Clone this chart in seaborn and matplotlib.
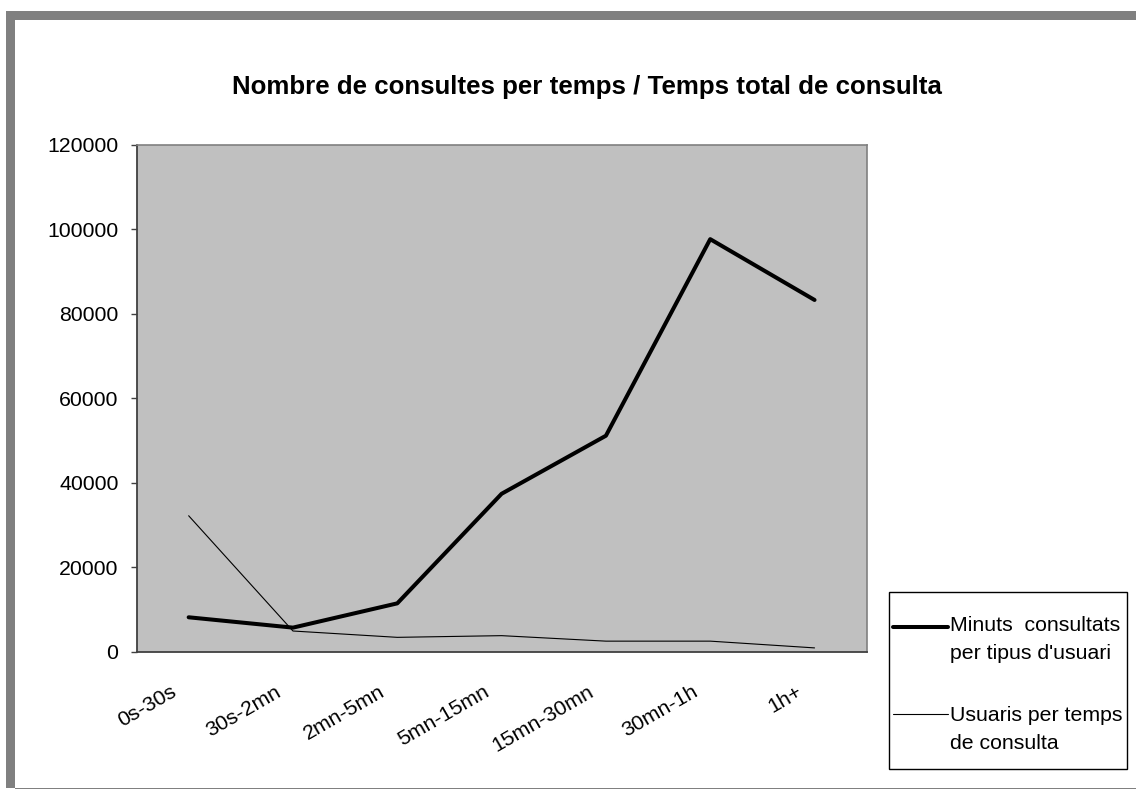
import matplotlib
matplotlib.use("Agg")
import numpy as np
import pandas as pd
import seaborn as sns
import matplotlib.pyplot as plt
from matplotlib.patches import Rectangle
from matplotlib.lines import Line2D

# data
categories = ["0s-30s", "30s-2mn", "2mn-5mn", "5mn-15mn", "15mn-30mn", "30mn-1h", "1h+"]
minuts = [8150, 5700, 11450, 37400, 51150, 97700, 83300]
usuaris = [32200, 4900, 3400, 3800, 2500, 2500, 900]
yticks = [0, 20000, 40000, 60000, 80000, 100000, 120000]
labels = ["Minuts  consultats\nper tipus d'usuari", "Usuaris per temps\nde consulta"]
title = "Nombre de consultes per temps / Temps total de consulta"

df = pd.DataFrame({"temps": categories, "minuts": minuts, "usuaris": usuaris})

sns.set_style("white")
plt.rcParams['font.family'] = ['Liberation Sans', 'DejaVu Sans']
plt.rcParams['text.color'] = 'black'
plt.rcParams['xtick.color'] = 'black'
plt.rcParams['ytick.color'] = 'black'

W, H = 1136, 789
fs = 15.3
fig = plt.figure(figsize=(W / 100, H / 100), dpi=100)

# plot area, placed in pixels like the excel chart
x0, x1, y0, y1 = 136.5, 866.7, 145, 651.7
ax = fig.add_axes([x0 / W, 1 - y1 / H, (x1 - x0) / W, (y1 - y0) / H])
ax.set_facecolor("#C0C0C0")

sns.lineplot(data=df, x="temps", y="minuts", color="black", lw=2.9, sort=False, ax=ax)
sns.lineplot(data=df, x="temps", y="usuaris", color="black", lw=0.8, sort=False, ax=ax)

ax.set_xlim(-0.5, len(categories) - 0.5)
ax.set_ylim(0, 120000)
ax.set_yticks(yticks)
ax.set_yticklabels([str(v) for v in yticks], fontsize=fs)
# excel puts the rotated labels a little left of the category centre
ax.set_xticks(np.arange(len(categories)) - 0.18)
ax.set_xticklabels(categories, fontsize=fs, rotation=30, ha="right", va="top",
                   rotation_mode="anchor")
ax.set_xticks(np.arange(-0.5, len(categories), 1), minor=True)
ax.tick_params(axis="x", which="major", length=0, pad=22)
ax.tick_params(axis="x", which="minor", length=4, width=1, color="#404040", direction="out")
ax.tick_params(axis="y", length=4, width=1, color="#404040", direction="out", left=True, pad=9)
ax.set_xlabel("")
ax.set_ylabel("")

for s in ["left", "bottom"]:
    ax.spines[s].set_color("#404040")
    ax.spines[s].set_linewidth(1.3)
for s in ["top", "right"]:
    ax.spines[s].set_color("#808080")
    ax.spines[s].set_linewidth(1.2)

fig.text(586.5 / W, 1 - 87 / H, title, fontsize=18.6, fontweight="bold",
         ha="center", va="center")

# legend box drawn by hand so the keys sit on the first text line, as in excel
fig.add_artist(Rectangle((889 / W, 1 - 769 / H), 238 / W, 177 / H, transform=fig.transFigure,
                         facecolor="white", edgecolor="black", lw=1.0))
for lab, lw, ky, ty in zip(labels, [2.9, 0.8], [627, 714], [616, 706]):
    fig.add_artist(Line2D([893 / W, 948 / W], [1 - ky / H] * 2, transform=fig.transFigure,
                          color="black", lw=lw))
    fig.text(950 / W, 1 - ty / H, lab, fontsize=fs, ha="left", va="top",
             linespacing=1.6)

# grey outer frame of the chart sheet
grey = "#808080"
fig.add_artist(Rectangle((6 / W, 1 - 788 / H), 9 / W, 777 / H, transform=fig.transFigure,
                         color=grey, lw=0))
fig.add_artist(Rectangle((6 / W, 1 - 20 / H), (W - 6) / W, 9 / H, transform=fig.transFigure,
                         color=grey, lw=0))
fig.add_artist(Rectangle((15 / W, 1 - 789 / H), (W - 15) / W, 1.5 / H, transform=fig.transFigure,
                         color=grey, lw=0))

fig.savefig("out.png", dpi=100)
